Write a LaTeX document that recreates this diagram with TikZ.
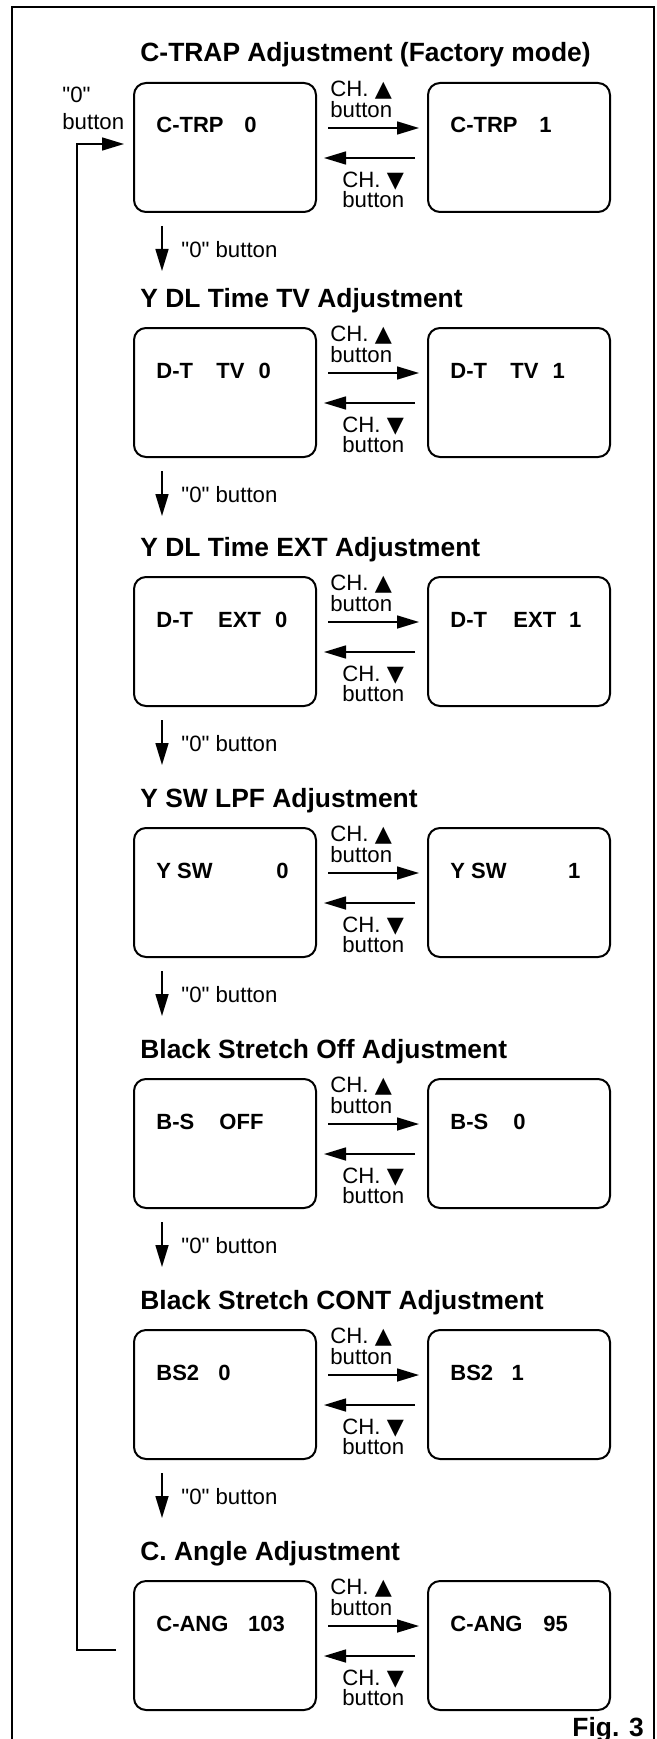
\documentclass[tikz,border=0pt]{standalone}
\usepackage{fontspec}
\setmainfont{Liberation Sans}[Ligatures=TeXOff]
\newfontfamily\trifont{DejaVu Sans}
\usetikzlibrary{arrows.meta}

\begin{document}
\begin{tikzpicture}[x=0.5pt,y=-0.5pt,
	screen/.style={draw,line width=1pt,rounded corners=6pt,minimum width=91pt,minimum height=64.5pt,inner sep=0pt},
	heading/.style={font=\bfseries\fontsize{13.2}{15}\selectfont,anchor=base west,inner sep=0pt},
	readout/.style={font=\bfseries\fontsize{11}{13}\selectfont,anchor=base west,inner sep=0pt},
	keyname/.style={font=\fontsize{11.1}{10.25}\selectfont,align=left,anchor=west,inner sep=0pt},
	press/.style={-{Triangle[length=11pt,width=6.5pt]},line width=0.8pt}]
	\useasboundingbox (0,0) rectangle (657,1739);
	%frame
	\draw[line width=1pt] (12,1750) -- (12,7) -- (654,7) -- (654,1750);
	\node[keyname] (zerokey) at (62,108.5) {"0"\\[3.25pt]button};
	\node[heading] (fig) at (572,1736) {Fig. 3};
	%C-TRAP
	\node[heading] (ttrp) at (140,62) {C-TRAP Adjustment (Factory mode)};
	\node[screen] (trp0) at (225,147.5) {};
	\node[screen] (trp1) at (519,147.5) {};
	\node[readout] (trp0txt) at (156,133) {C-TRP\hspace{10.4pt}0};
	\node[readout] (trp1txt) at (450,133) {C-TRP\hspace{10.9pt}1};
	\node[keyname] (trpup) at (330,99.5) {CH.~{\trifont ▲}\\button};
	\node[keyname] (trpdn) at (342,190) {CH.~{\trifont ▼}\\button};
	\draw[press] ([xshift=5.5pt,yshift=9.75pt]trp0.east) -- ([xshift=-4pt,yshift=9.75pt]trp1.west);
	\draw[press] ([xshift=-6pt,yshift=-5.25pt]trp1.west) -- ([xshift=3.5pt,yshift=-5.25pt]trp0.east);
	\draw[press] ([xshift=14.5pt,yshift=-6.5pt]trp0.south west) -- ++(0,45);
	\node[keyname] (trpnext) at (181,250) {"0" button};
	%Y DL Time TV
	\node[heading] (ttv) at (140,307) {Y DL Time TV Adjustment};
	\node[screen] (tv0) at (225,392.5) {};
	\node[screen] (tv1) at (519,392.5) {};
	\node[readout] (tv0txt) at (156,378) {D-T\hspace{11.7pt}TV\hspace{7pt}0};
	\node[readout] (tv1txt) at (450,378) {D-T\hspace{11.7pt}TV\hspace{7pt}1};
	\node[keyname] (tvup) at (330,344.5) {CH.~{\trifont ▲}\\button};
	\node[keyname] (tvdn) at (342,435) {CH.~{\trifont ▼}\\button};
	\draw[press] ([xshift=5.5pt,yshift=9.75pt]tv0.east) -- ([xshift=-4pt,yshift=9.75pt]tv1.west);
	\draw[press] ([xshift=-6pt,yshift=-5.25pt]tv1.west) -- ([xshift=3.5pt,yshift=-5.25pt]tv0.east);
	\draw[press] ([xshift=14.5pt,yshift=-6.5pt]tv0.south west) -- ++(0,45);
	\node[keyname] (tvnext) at (181,495) {"0" button};
	%Y DL Time EXT
	\node[heading] (text) at (140,556) {Y DL Time EXT Adjustment};
	\node[screen] (ext0) at (225,641.5) {};
	\node[screen] (ext1) at (519,641.5) {};
	\node[readout] (ext0txt) at (156,627) {D-T\hspace{12.6pt}EXT\hspace{7pt}0};
	\node[readout] (ext1txt) at (450,627) {D-T\hspace{13.2pt}EXT\hspace{6.5pt}1};
	\node[keyname] (extup) at (330,593.5) {CH.~{\trifont ▲}\\button};
	\node[keyname] (extdn) at (342,684) {CH.~{\trifont ▼}\\button};
	\draw[press] ([xshift=5.5pt,yshift=9.75pt]ext0.east) -- ([xshift=-4pt,yshift=9.75pt]ext1.west);
	\draw[press] ([xshift=-6pt,yshift=-5.25pt]ext1.west) -- ([xshift=3.5pt,yshift=-5.25pt]ext0.east);
	\draw[press] ([xshift=14.5pt,yshift=-6.5pt]ext0.south west) -- ++(0,45);
	\node[keyname] (extnext) at (181,744) {"0" button};
	%Y SW LPF
	\node[heading] (tysw) at (140,807) {Y SW LPF Adjustment};
	\node[screen] (ysw0) at (225,892.5) {};
	\node[screen] (ysw1) at (519,892.5) {};
	\node[readout] (ysw0txt) at (156,878) {Y SW\hspace{31.9pt}0};
	\node[readout] (ysw1txt) at (450,878) {Y SW\hspace{30.8pt}1};
	\node[keyname] (yswup) at (330,844.5) {CH.~{\trifont ▲}\\button};
	\node[keyname] (yswdn) at (342,935) {CH.~{\trifont ▼}\\button};
	\draw[press] ([xshift=5.5pt,yshift=9.75pt]ysw0.east) -- ([xshift=-4pt,yshift=9.75pt]ysw1.west);
	\draw[press] ([xshift=-6pt,yshift=-5.25pt]ysw1.west) -- ([xshift=3.5pt,yshift=-5.25pt]ysw0.east);
	\draw[press] ([xshift=14.5pt,yshift=-6.5pt]ysw0.south west) -- ++(0,45);
	\node[keyname] (yswnext) at (181,995) {"0" button};
	%Black Stretch Off
	\node[heading] (tbs) at (140,1058) {Black Stretch Off Adjustment};
	\node[screen] (bs0) at (225,1143.5) {};
	\node[screen] (bs1) at (519,1143.5) {};
	\node[readout] (bs0txt) at (156,1129) {B-S\hspace{12.6pt}OFF};
	\node[readout] (bs1txt) at (450,1129) {B-S\hspace{12.6pt}0};
	\node[keyname] (bsup) at (330,1095.5) {CH.~{\trifont ▲}\\button};
	\node[keyname] (bsdn) at (342,1186) {CH.~{\trifont ▼}\\button};
	\draw[press] ([xshift=5.5pt,yshift=9.75pt]bs0.east) -- ([xshift=-4pt,yshift=9.75pt]bs1.west);
	\draw[press] ([xshift=-6pt,yshift=-5.25pt]bs1.west) -- ([xshift=3.5pt,yshift=-5.25pt]bs0.east);
	\draw[press] ([xshift=14.5pt,yshift=-6.5pt]bs0.south west) -- ++(0,45);
	\node[keyname] (bsnext) at (181,1246) {"0" button};
	%Black Stretch CONT
	\node[heading] (tbsc) at (140,1309) {Black Stretch CONT Adjustment};
	\node[screen] (bsc0) at (225,1394.5) {};
	\node[screen] (bsc1) at (519,1394.5) {};
	\node[readout] (bsc0txt) at (156,1380) {BS2\hspace{9.6pt}0};
	\node[readout] (bsc1txt) at (450,1380) {BS2\hspace{9.2pt}1};
	\node[keyname] (bscup) at (330,1346.5) {CH.~{\trifont ▲}\\button};
	\node[keyname] (bscdn) at (342,1437) {CH.~{\trifont ▼}\\button};
	\draw[press] ([xshift=5.5pt,yshift=9.75pt]bsc0.east) -- ([xshift=-4pt,yshift=9.75pt]bsc1.west);
	\draw[press] ([xshift=-6pt,yshift=-5.25pt]bsc1.west) -- ([xshift=3.5pt,yshift=-5.25pt]bsc0.east);
	\draw[press] ([xshift=14.5pt,yshift=-6.5pt]bsc0.south west) -- ++(0,45);
	\node[keyname] (bscnext) at (181,1497) {"0" button};
	%C. Angle
	\node[heading] (tang) at (140,1560) {C. Angle Adjustment};
	\node[screen] (ang0) at (225,1645.5) {};
	\node[screen] (ang1) at (519,1645.5) {};
	\node[readout] (ang0txt) at (156,1631) {C-ANG\hspace{9.8pt}103};
	\node[readout] (ang1txt) at (450,1631) {C-ANG\hspace{10.5pt}95};
	\node[keyname] (angup) at (330,1597.5) {CH.~{\trifont ▲}\\button};
	\node[keyname] (angdn) at (342,1688) {CH.~{\trifont ▼}\\button};
	\draw[press] ([xshift=5.5pt,yshift=9.75pt]ang0.east) -- ([xshift=-4pt,yshift=9.75pt]ang1.west);
	\draw[press] ([xshift=-6pt,yshift=-5.25pt]ang1.west) -- ([xshift=3.5pt,yshift=-5.25pt]ang0.east);
	%back to C-TRAP
	\draw[press] ([xshift=-8.5pt,yshift=-2.25pt]ang0.west) -- ++(-39,0) |- ([xshift=-4.5pt,yshift=1.75pt]trp0.west);
\end{tikzpicture}
\end{document}
